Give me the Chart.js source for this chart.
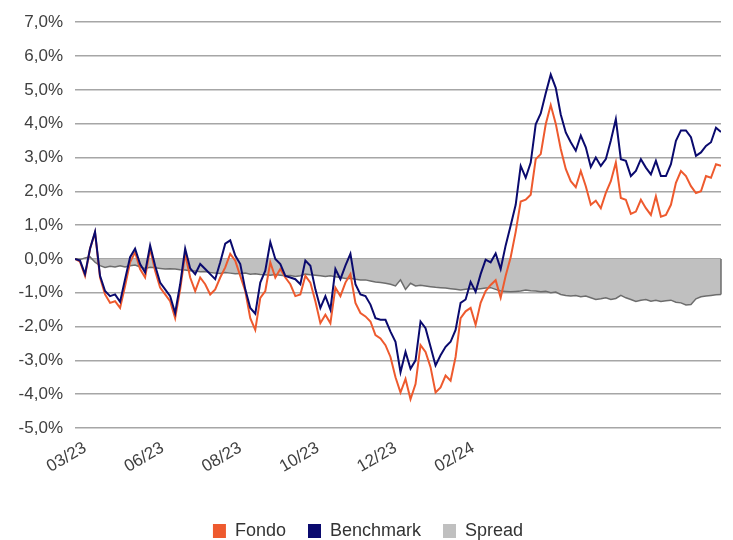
<!DOCTYPE html>
<html lang="it">
<head>
<meta charset="UTF-8">
<title>Fondo vs Benchmark</title>
<script src="https://cdn.jsdelivr.net/npm/chart.js"></script>
<style>
    body { margin: 0; background: #fff; overflow: hidden; }
</style>
</head>
<body>
<canvas id="grafico" width="733" height="540"></canvas>

<script>
    // performance cumulata (%), un punto ogni ~2 giorni
    const fondo = [
        0.00, -0.08, -0.50, 0.30, 0.78, -0.55, -1.05, -1.30, -1.25, -1.45,
        -0.80, -0.10, 0.20, -0.30, -0.55, 0.30, -0.35, -0.85, -1.05, -1.25,
        -1.75, -0.90, 0.15, -0.55, -0.95, -0.55, -0.75, -1.05, -0.90, -0.55,
        -0.25, 0.15, -0.05, -0.50, -0.95, -1.75, -2.10, -1.15, -0.95, -0.10,
        -0.55, -0.30, -0.55, -0.75, -1.10, -1.05, -0.50, -0.70, -1.25, -1.90,
        -1.65, -1.90, -0.85, -1.10, -0.70, -0.45, -1.30, -1.60, -1.70, -1.85,
        -2.25, -2.35, -2.55, -2.90, -3.50, -3.95, -3.55, -4.15, -3.70, -2.55,
        -2.75, -3.20, -3.95, -3.80, -3.45, -3.60, -2.90, -1.75, -1.55, -1.45,
        -1.95, -1.30, -0.95, -0.77, -0.63, -1.15, -0.50, 0.05, 0.80, 1.70,
        1.75, 1.90, 2.95, 3.10, 3.98, 4.55, 4.00, 3.25, 2.66, 2.30,
        2.12, 2.60, 2.15, 1.60, 1.72, 1.50, 1.95, 2.30, 2.85, 1.80,
        1.75, 1.33, 1.40, 1.75, 1.50, 1.30, 1.85, 1.25, 1.30, 1.60,
        2.25, 2.60, 2.45, 2.15, 1.95, 2.00, 2.45, 2.40, 2.80, 2.75
    ];

    const benchmark = [
        0.00, -0.05, -0.45, 0.30, 0.80, -0.50, -0.95, -1.10, -1.05, -1.27,
        -0.60, 0.05, 0.30, -0.15, -0.40, 0.40, -0.20, -0.70, -0.90, -1.10,
        -1.60, -0.75, 0.30, -0.28, -0.45, -0.15, -0.30, -0.45, -0.60, -0.10,
        0.45, 0.55, 0.10, -0.15, -0.90, -1.45, -1.62, -0.70, -0.35, 0.50,
        0.00, -0.15, -0.50, -0.55, -0.60, -0.75, -0.05, -0.20, -0.90, -1.45,
        -1.10, -1.50, -0.30, -0.60, -0.20, 0.15, -0.75, -1.05, -1.10, -1.35,
        -1.75, -1.80, -1.80, -2.15, -2.45, -3.35, -2.75, -3.25, -3.00, -1.85,
        -2.05, -2.60, -3.15, -2.85, -2.60, -2.45, -2.10, -1.30, -1.20, -0.68,
        -0.97, -0.45, -0.02, -0.10, 0.16, -0.30, 0.40, 0.99, 1.60, 2.75,
        2.40, 2.85, 3.98, 4.30, 4.90, 5.45, 5.06, 4.27, 3.74, 3.45,
        3.20, 3.65, 3.30, 2.72, 3.00, 2.75, 2.95, 3.50, 4.13, 2.95,
        2.90, 2.45, 2.60, 2.95, 2.70, 2.50, 2.90, 2.45, 2.45, 2.80,
        3.49, 3.80, 3.80, 3.60, 3.05, 3.15, 3.34, 3.45, 3.88, 3.75
    ];

    const spread = [
        0.00, -0.02, 0.03, 0.06, -0.10, -0.20, -0.25, -0.22, -0.24, -0.20,
        -0.24, -0.20, -0.18, -0.24, -0.28, -0.25, -0.26, -0.28, -0.30, -0.29,
        -0.30, -0.32, -0.33, -0.35, -0.36, -0.38, -0.37, -0.40, -0.42, -0.43,
        -0.40, -0.42, -0.44, -0.43, -0.42, -0.45, -0.44, -0.46, -0.47, -0.48,
        -0.46, -0.48, -0.50, -0.49, -0.52, -0.50, -0.45, -0.47, -0.48, -0.50,
        -0.52, -0.50, -0.53, -0.55, -0.58, -0.57, -0.60, -0.62, -0.62, -0.65,
        -0.68, -0.70, -0.72, -0.75, -0.80, -0.62, -0.90, -0.72, -0.80, -0.78,
        -0.80, -0.82, -0.84, -0.85, -0.86, -0.88, -0.90, -0.92, -0.90, -0.88,
        -0.90, -0.88, -0.86, -0.85, -0.90, -0.95, -0.96, -0.97, -0.96, -0.95,
        -0.92, -0.94, -0.95, -0.97, -0.96, -1.00, -0.98, -1.05, -1.08, -1.10,
        -1.08, -1.12, -1.10, -1.15, -1.20, -1.18, -1.15, -1.20, -1.17, -1.08,
        -1.15, -1.20, -1.26, -1.22, -1.20, -1.25, -1.22, -1.26, -1.24, -1.22,
        -1.28, -1.30, -1.36, -1.35, -1.18, -1.12, -1.10, -1.08, -1.06, -1.05
    ];

    // etichette asse x e punto della serie a cui si riferiscono
    const etichette = ['03/23', '06/23', '08/23', '10/23', '12/23', '02/24'];
    const puntiEtichette = [2, 17.5, 33, 48.5, 64, 79.5];

    const testo = '#404040';
    const fontAssi = { family: "'Liberation Sans', Arial, sans-serif", size: 17 };
    const fontLegenda = { family: "'Liberation Sans', Arial, sans-serif", size: 18 };

    function punti(serie) {
        return serie.map(function (v, i) { return { x: i, y: v }; });
    }

    // bordo destro dell'area dello spread, come in Excel
    const bordoArea = {
        id: 'bordoArea',
        afterDatasetDraw: function (chart, args) {
            if (args.index !== 2) return;
            const ctx = chart.ctx;
            const x = chart.scales.x.getPixelForValue(spread.length - 1);
            ctx.save();
            ctx.strokeStyle = '#6d6d6d';
            ctx.lineWidth = 1.5;
            ctx.beginPath();
            ctx.moveTo(x, chart.scales.y.getPixelForValue(0));
            ctx.lineTo(x, chart.scales.y.getPixelForValue(spread[spread.length - 1]));
            ctx.stroke();
            ctx.restore();
        }
    };

    const grafico = new Chart(document.getElementById('grafico'), {
        type: 'line',
        data: {
            datasets: [{
                label: 'Fondo',
                data: punti(fondo),
                borderColor: '#ee5a2e',
                backgroundColor: '#ee5a2e',
                borderWidth: 2,
                pointRadius: 0,
                tension: 0,
                fill: false,
                order: 2
            }, {
                label: 'Benchmark',
                data: punti(benchmark),
                borderColor: '#0a0a6e',
                backgroundColor: '#0a0a6e',
                borderWidth: 2,
                pointRadius: 0,
                tension: 0,
                fill: false,
                order: 1
            }, {
                label: 'Spread',
                data: punti(spread),
                borderColor: '#6d6d6d',
                backgroundColor: '#c0c0c0',
                borderWidth: 1.5,
                pointRadius: 0,
                tension: 0,
                fill: 'origin',
                order: 3
            }]
        },
        plugins: [bordoArea],
        options: {
            responsive: false,
            devicePixelRatio: 1,
            animation: false,
            layout: { padding: { left: 15, right: 12, top: 21, bottom: -10 } },
            plugins: {
                tooltip: { enabled: false },
                legend: {
                    position: 'bottom',
                    labels: {
                        color: '#333',
                        font: fontLegenda,
                        boxWidth: 13,
                        boxHeight: 14,
                        padding: 22,
                        sort: function (a, b) { return a.datasetIndex - b.datasetIndex; },
                        generateLabels: function (chart) {
                            const items = Chart.defaults.plugins.legend.labels.generateLabels(chart);
                            items.forEach(function (it) {
                                it.strokeStyle = it.fillStyle;
                                it.lineWidth = 0;
                            });
                            return items;
                        }
                    }
                }
            },
            scales: {
                x: {
                    type: 'linear',
                    min: 0,
                    max: fondo.length - 1,
                    grid: { display: false },
                    border: { display: false },
                    afterBuildTicks: function (scale) {
                        scale.ticks = puntiEtichette.map(function (v) { return { value: v }; });
                    },
                    afterFit: function (scale) {
                        scale.height = 72;
                    },
                    ticks: {
                        autoSkip: false,
                        minRotation: 30,
                        maxRotation: 30,
                        padding: 2,
                        color: testo,
                        font: fontAssi,
                        callback: function (v) {
                            return etichette[puntiEtichette.indexOf(v)];
                        }
                    }
                },
                y: {
                    min: -5,
                    max: 7,
                    grid: { color: '#a6a6a6', lineWidth: 1.5, drawTicks: false },
                    border: { display: false },
                    afterFit: function (scale) {
                        scale.width = 60;
                    },
                    ticks: {
                        stepSize: 1,
                        padding: 12,
                        color: testo,
                        font: fontAssi,
                        callback: function (v) {
                            return v.toFixed(1).replace('.', ',') + '%';
                        }
                    }
                }
            }
        }
    });
</script>
</body>
</html>
